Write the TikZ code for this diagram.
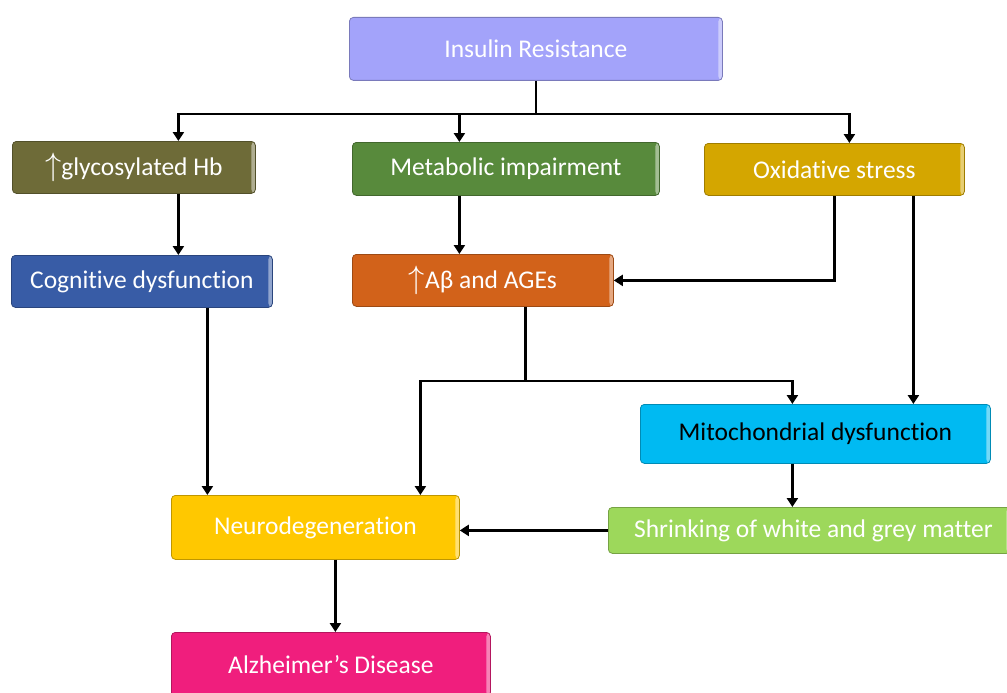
\documentclass[tikz,border=0pt]{standalone}
\usepackage{fontspec}
\setmainfont[Ligatures=NoCommon]{Carlito}
\usetikzlibrary{arrows.meta}

\definecolor{irfill}{RGB}{163,163,250}
\definecolor{glycofill}{RGB}{110,107,56}
\definecolor{metabfill}{RGB}{88,138,60}
\definecolor{oxidfill}{RGB}{212,166,0}
\definecolor{cognfill}{RGB}{56,92,166}
\definecolor{agesfill}{RGB}{210,98,26}
\definecolor{mitofill}{RGB}{0,186,242}
\definecolor{neurofill}{RGB}{255,200,0}
\definecolor{shrinkfill}{RGB}{157,216,91}
\definecolor{alzfill}{RGB}{240,30,125}

\newcommand{\incr}{\scalebox{1.3}{$\uparrow$}}

\tikzset{
  box/.style={rounded corners=4pt, inner sep=0pt, anchor=north west,
    font=\fontsize{25.5}{30}\selectfont, text=white, line width=0.8pt,
    fill=#1, draw=#1!75!black,
    path picture={\fill[white,opacity=.45]
      ([xshift=-4pt]path picture bounding box.north east)
      rectangle (path picture bounding box.south east);}},
  link/.style={line width=2.5pt},
  flow/.style={line width=2.5pt, -{Triangle[length=9pt,width=11pt]}},
}

\begin{document}
\begin{tikzpicture}[x=1pt,y=-1pt]
  \useasboundingbox (0,0) rectangle (1007,693);
  \clip (0,0) rectangle (1007,693);

  % boxes
  \node[box=irfill, minimum width=373pt, minimum height=63pt] (insulin) at (349,17) {Insulin Resistance};
  \node[box=glycofill, minimum width=243pt, minimum height=52pt] (glyco) at (12,141) {\incr glycosylated Hb};
  \node[box=metabfill, minimum width=307pt, minimum height=53pt] (metab) at (352,142) {Metabolic impairment};
  \node[box=oxidfill, minimum width=260pt, minimum height=52pt] (oxid) at (704,143) {Oxidative stress};
  \node[box=cognfill, minimum width=261pt, minimum height=52pt] (cogn) at (11,255) {Cognitive dysfunction};
  \node[box=agesfill, minimum width=261pt, minimum height=52pt] (ages) at (352,254) {\incr Aβ and AGEs};
  \node[box=mitofill, text=black, minimum width=350pt, minimum height=59pt] (mito) at (640,404) {Mitochondrial dysfunction};
  \node[box=neurofill, minimum width=288pt, minimum height=64pt] (neuro) at (171,495) {Neurodegeneration};
  \node[box=shrinkfill, minimum width=402pt, minimum height=46pt] (shrink) at (608,507) {\hspace*{8pt}Shrinking of white and grey matter};
  \node[box=alzfill, minimum width=319pt, minimum height=64pt] (alz) at (171,632) {Alzheimer’s Disease};

  % connectors
  \draw[link] (insulin.south) -- ++(0,33) coordinate (split);
  \draw[flow] (split) -| ([xshift=44.5pt]glyco.north);
  \draw[flow] (split) -| ([xshift=-46.5pt]metab.north);
  \draw[flow] (split) -| ([xshift=15pt]oxid.north);

  \draw[flow] ([xshift=44.5pt]glyco.south) -- ([xshift=44.5pt]glyco.south |- cogn.north);
  \draw[flow] ([xshift=-46.5pt]metab.south) -- ([xshift=-46.5pt]metab.south |- ages.north);
  \draw[flow] (oxid.south) |- (ages.east);
  \draw[flow] ([xshift=79pt]oxid.south) -- ([xshift=79pt]oxid.south |- mito.north);

  \draw[link] ([xshift=42.5pt]ages.south) -- ++(0,74) coordinate (fork);
  \draw[flow] (fork) -| ([xshift=-23pt]mito.north);
  \draw[flow] (fork) -| ([xshift=105pt]neuro.north);

  \draw[flow] ([xshift=65.5pt]cogn.south) -- ([xshift=65.5pt]cogn.south |- neuro.north);
  \draw[flow] ([xshift=-23pt]mito.south) -- ([xshift=-23pt]mito.south |- shrink.north);
  \draw[flow] (shrink.west) -- (shrink.west -| neuro.east);
  \draw[flow] ([xshift=20pt]neuro.south) -- ([xshift=20pt]neuro.south |- alz.north);
\end{tikzpicture}
\end{document}
